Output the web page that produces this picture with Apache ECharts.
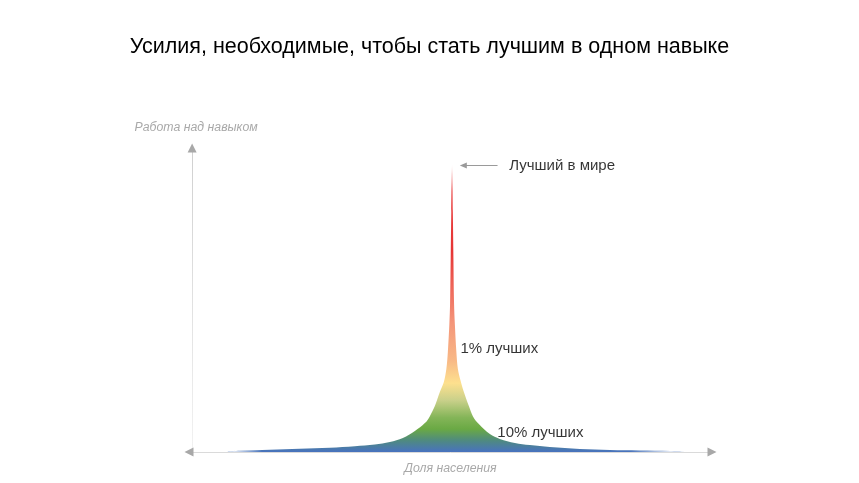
<!DOCTYPE html>
<html>
<head>
<meta charset="utf-8">
<script src="https://cdn.jsdelivr.net/npm/echarts@6/dist/echarts.min.js"></script>
<style>
html,body{margin:0;padding:0;background:#ffffff;}
#chart{width:859px;height:483px;}
</style>
</head>
<body>
<div id="chart"></div>
<script>
// ---- data ----
const titleText = 'Усилия, необходимые, чтобы стать лучшим в одном навыке';
const xAxisName = 'Доля населения';
const yAxisName = 'Работа над навыком';

// population share (x) and effort (y) along the curve
const curveX = [6.88, 9.19, 14.96, 20.73, 26.5, 31.3, 35.15, 38.04, 40.54, 42.85, 44.77, 45.73, 46.69, 47.65, 48.42, 48.9, 49.19, 49.48, 49.62, 49.74, 49.85,
  50.0,
  50.15, 50.26, 50.38, 50.54, 50.83, 51.12, 51.6, 52.27, 53.23, 54.0, 55.15, 57.27, 59.19, 62.08, 64.96, 68.8, 74.58, 80.35, 86.1, 91.9, 94.77];
const curveY = [0.16, 0.4, 0.75, 1.05, 1.4, 1.9, 2.45, 3.3, 4.6, 6.9, 9.5, 11.8, 15.1, 19.7, 23.0, 27.3, 32.9, 42.0, 49.0, 64.0, 79.0,
  94.4,
  79.0, 64.0, 49.0, 42.0, 32.9, 27.3, 23.7, 19.7, 15.1, 11.8, 9.2, 5.9, 4.3, 3.0, 2.3, 1.65, 1.0, 0.66, 0.5, 0.33, 0.16];

const noteTexts = ['Лучший в мире', '1% лучших', '10% лучших'];
const noteX = [61.0, 51.6, 58.7];
const noteY = [94.24, 33.9, 6.25];

const pointerFrom = [58.75, 94.24];
const pointerTo = [52.17, 94.24];

const xMin = -0.6, xMax = 100;
const yMin = 0, yMax = 100;

// ---- build ----
const curveData = curveX.map((x, i) => [x, curveY[i]]);
const noteData = noteTexts.map((t, i) => [noteX[i], noteY[i], t]);
const FONT = '"Liberation Sans", Arial, Helvetica, sans-serif';

const chart = echarts.init(document.getElementById('chart'), null, {renderer: 'canvas'});

const hiddenParts = {
  axisTick: {show: false},
  axisLabel: {show: false},
  splitLine: {show: false}
};

const option = {
  animation: false,
  backgroundColor: '#ffffff',
  title: {
    text: titleText,
    left: 'center',
    top: 31,
    textStyle: {fontFamily: FONT, fontSize: 21.5, fontWeight: 'normal', color: '#000000'}
  },
  grid: {left: 189, right: 147, top: 148, bottom: 31, containLabel: false},
  xAxis: [
    Object.assign({
      type: 'value', min: xMin, max: xMax, position: 'bottom',
      name: xAxisName, nameLocation: 'middle', nameGap: 11,
      nameTextStyle: {fontFamily: FONT, fontSize: 12.3, fontStyle: 'italic', color: '#a9a9a9', verticalAlign: 'top'},
      axisLine: {show: true, onZero: false, lineStyle: {color: '#dadada', width: 1}, symbol: 'none'},
      z: 1
    }, hiddenParts),
    Object.assign({
      type: 'value', min: xMin, max: xMax, position: 'bottom',
      axisLine: {show: true, onZero: false, lineStyle: {color: '#a8a8a8', width: 0}, symbol: ['triangle', 'triangle'], symbolSize: [9, 9]},
      z: 1
    }, hiddenParts)
  ],
  yAxis: [
    Object.assign({
      type: 'value', min: yMin, max: yMax, position: 'left',
      name: yAxisName, nameLocation: 'end', nameGap: 14,
      nameTextStyle: {fontFamily: FONT, fontSize: 12.3, fontStyle: 'italic', color: '#a9a9a9', padding: [0, 0, 0, 8]},
      axisLine: {show: true, onZero: true, onZeroAxisIndex: 0, symbol: 'none',
        lineStyle: {width: 1, color: {type: 'linear', x: 0, y: 0, x2: 0, y2: 1,
          colorStops: [{offset: 0, color: '#d0d0d0'}, {offset: 1, color: '#f2f2f2'}]}}},
      z: 1
    }, hiddenParts),
    Object.assign({
      type: 'value', min: yMin, max: yMax, position: 'left',
      axisLine: {show: true, onZero: true, onZeroAxisIndex: 0, lineStyle: {color: '#a8a8a8', width: 0}, symbol: ['none', 'triangle'], symbolSize: [9, 9]},
      z: 1
    }, hiddenParts)
  ],
  series: [
    {
      type: 'line',
      xAxisIndex: 0, yAxisIndex: 0,
      data: curveData,
      smooth: 0.35,
      symbol: 'none',
      silent: true,
      lineStyle: {width: 0},
      areaStyle: {
        opacity: 1,
        color: {
          type: 'linear', x: 0, y: 0, x2: 0, y2: 1,
          colorStops: [
            {offset: 0, color: 'rgba(250,215,215,0.3)'},
            {offset: 0.03, color: '#f5a8a8'},
            {offset: 0.09, color: '#ea4444'},
            {offset: 0.3, color: '#e63535'},
            {offset: 0.42, color: '#ee6458'},
            {offset: 0.55, color: '#f4967a'},
            {offset: 0.68, color: '#f8b886'},
            {offset: 0.76, color: '#fde08e'},
            {offset: 0.82, color: '#c9d08a'},
            {offset: 0.88, color: '#84b558'},
            {offset: 0.92, color: '#6aa944'},
            {offset: 0.96, color: '#4f8a80'},
            {offset: 1, color: '#4872c0'}
          ]
        }
      },
      z: 2
    },
    {
      // horizontal fade of the tails
      type: 'line',
      xAxisIndex: 0, yAxisIndex: 0,
      data: curveData,
      smooth: 0.35,
      symbol: 'none',
      silent: true,
      lineStyle: {width: 0},
      areaStyle: {
        opacity: 1,
        color: {
          type: 'linear', x: 0, y: 0, x2: 1, y2: 0,
          colorStops: [
            {offset: 0, color: 'rgba(255,255,255,1)'},
            {offset: 0.075, color: 'rgba(255,255,255,0)'},
            {offset: 0.88, color: 'rgba(255,255,255,0)'},
            {offset: 0.985, color: 'rgba(255,255,255,1)'},
            {offset: 1, color: 'rgba(255,255,255,1)'}
          ]
        }
      },
      markLine: {
        silent: true,
        symbol: ['none', 'triangle'],
        symbolSize: [6, 7],
        label: {show: false},
        lineStyle: {color: '#9a9a9a', width: 1, type: 'solid'},
        emphasis: {disabled: true},
        data: [[{coord: pointerFrom}, {coord: pointerTo}]]
      },
      z: 3
    },
    {
      type: 'scatter',
      xAxisIndex: 0, yAxisIndex: 0,
      data: noteData,
      symbolSize: 0,
      silent: true,
      label: {
        show: true,
        position: 'right',
        distance: 0,
        formatter: p => p.value[2],
        fontFamily: FONT,
        fontSize: 15,
        color: '#000000'
      },
      z: 4
    }
  ]
};

chart.setOption(option);
</script>
</body>
</html>
